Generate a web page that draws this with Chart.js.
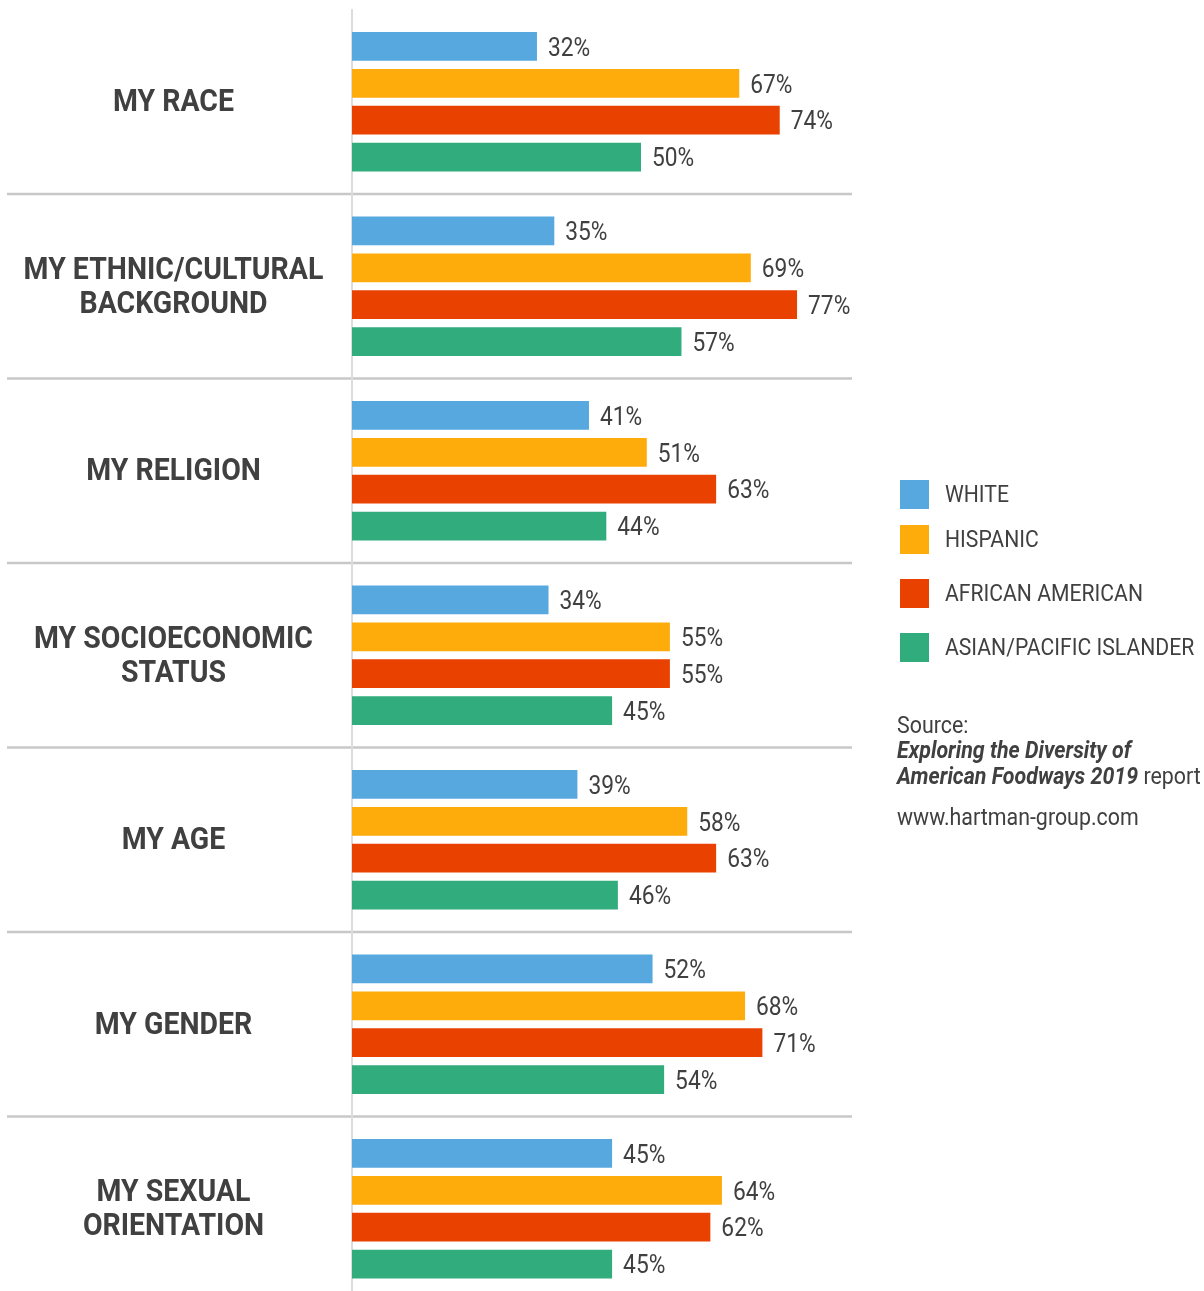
<!DOCTYPE html>
<html>
<head>
<meta charset="utf-8">
<script src="https://cdn.jsdelivr.net/npm/chart.js@4.4.1/dist/chart.umd.min.js"></script>
<style>
  html, body { margin: 0; padding: 0; background: #fff; overflow: hidden; }
  body { width: 1204px; height: 1291px; position: relative; font-family: Roboto, 'Noto Sans', sans-serif; color: #404040; }
  #wrap { position: absolute; left: 0; top: 0; width: 1204px; height: 1301px; }
  .cond { display: inline-block; transform: scaleX(0.92); transform-origin: left center; white-space: nowrap; }
  .leg { position: absolute; left: 900px; height: 29px; }
  .leg .sw { position: absolute; left: 0; top: 0; width: 29px; height: 29px; }
  .leg .tx { position: absolute; left: 45px; top: 0; line-height: 29px; font-size: 23px; }
  .src { position: absolute; left: 897px; font-size: 23px; line-height: 26px; }
  .src .cond { transform: scaleX(0.93); }
  .src b { font-style: italic; font-weight: 700; }
</style>
</head>
<body>
<div id="wrap"><canvas id="chart" width="1204" height="1301"></canvas></div>
<div id="legend"></div>
<div class="src" style="top:713px"><span class="cond">Source:</span></div>
<div class="src" style="top:738px"><span class="cond"><b>Exploring the Diversity of</b></span></div>
<div class="src" style="top:764px"><span class="cond"><b>American Foodways 2019</b> report</span></div>
<div class="src" style="top:805px"><span class="cond">www.hartman-group.com</span></div>
<script>
/* ── Data ── */
const categories = [
  'MY RACE',
  ['MY ETHNIC/CULTURAL', 'BACKGROUND'],
  'MY RELIGION',
  ['MY SOCIOECONOMIC', 'STATUS'],
  'MY AGE',
  'MY GENDER',
  ['MY SEXUAL', 'ORIENTATION']
];
const seriesNames = ['WHITE', 'HISPANIC', 'AFRICAN AMERICAN', 'ASIAN/PACIFIC ISLANDER'];
const white    = [32, 35, 41, 34, 39, 52, 45];
const hispanic = [67, 69, 51, 55, 58, 68, 64];
const african  = [74, 77, 63, 55, 63, 71, 62];
const asian    = [50, 57, 44, 45, 46, 54, 45];

const COLORS = ['#56A8DF', '#FEAB0C', '#E94100', '#30AC7D'];
const TEXT = '#404040';

/* ── Legend (HTML, uneven spacing as in the original) ── */
const legTops = [480, 525, 579, 633];
const legEl = document.getElementById('legend');
seriesNames.forEach((n, i) => {
  legEl.innerHTML += `<div class="leg" style="top:${legTops[i]}px">
    <div class="sw" style="background:${COLORS[i]}"></div>
    <div class="tx"><span class="cond">${n}</span></div></div>`;
});

/* ── Plugins ── */
const frame = {
  id: 'frame',
  beforeDatasetsDraw(chart) {
    const c = chart.ctx, y = chart.scales.y, x = chart.scales.x;
    c.save();
    // row separators
    c.strokeStyle = '#c8c8c8'; c.lineWidth = 2.5;
    for (let i = 0; i < categories.length - 1; i++) {
      const py = (y.getPixelForValue(i) + y.getPixelForValue(i + 1)) / 2;
      c.beginPath(); c.moveTo(7, py); c.lineTo(852, py); c.stroke();
    }
    // axis line
    const x0 = x.getPixelForValue(0);
    c.strokeStyle = '#dcdcdc'; c.lineWidth = 2;
    c.beginPath(); c.moveTo(x0, 9); c.lineTo(x0, chart.height); c.stroke();
    c.restore();
  }
};

const labels = {
  id: 'labels',
  afterDatasetsDraw(chart) {
    const c = chart.ctx, y = chart.scales.y;
    c.save();
    c.fillStyle = TEXT;
    c.textBaseline = 'middle';
    // category labels
    c.font = '700 32px Roboto';
    c.textAlign = 'center';
    categories.forEach((lab, i) => {
      const lines = Array.isArray(lab) ? lab : [lab];
      const cy = y.getPixelForValue(i) + 1.5;
      lines.forEach((ln, j) => {
        const ly = cy + (j - (lines.length - 1) / 2) * 34;
        c.save(); c.translate(173.5, ly); c.scale(0.89, 1);
        c.fillText(ln, 0, 0); c.restore();
      });
    });
    // value labels
    c.font = '400 25px Roboto';
    c.textAlign = 'left';
    chart.data.datasets.forEach((ds, di) => {
      chart.getDatasetMeta(di).data.forEach((bar, i) => {
        c.save(); c.translate(bar.x + 11, bar.y + 3); c.scale(0.91, 1);
        c.fillText(ds.data[i] + '%', 0, 0); c.restore();
      });
    });
    c.restore();
  }
};

/* ── Chart ── */
new Chart(document.getElementById('chart'), {
  type: 'bar',
  data: {
    labels: categories,
    datasets: [white, hispanic, african, asian].map((d, i) => ({
      label: seriesNames[i], data: d, backgroundColor: COLORS[i],
      borderWidth: 0, categoryPercentage: 0.8, barPercentage: 0.78
    }))
  },
  options: {
    indexAxis: 'y', responsive: false, animation: false,
    layout: { padding: { left: 352, right: 274, top: 9.5, bottom: 0 } },
    plugins: { legend: { display: false }, tooltip: { enabled: false } },
    scales: {
      x: { min: 0, max: 100, display: false },
      y: { display: false }
    }
  },
  plugins: [frame, labels]
});
</script>
</body>
</html>
